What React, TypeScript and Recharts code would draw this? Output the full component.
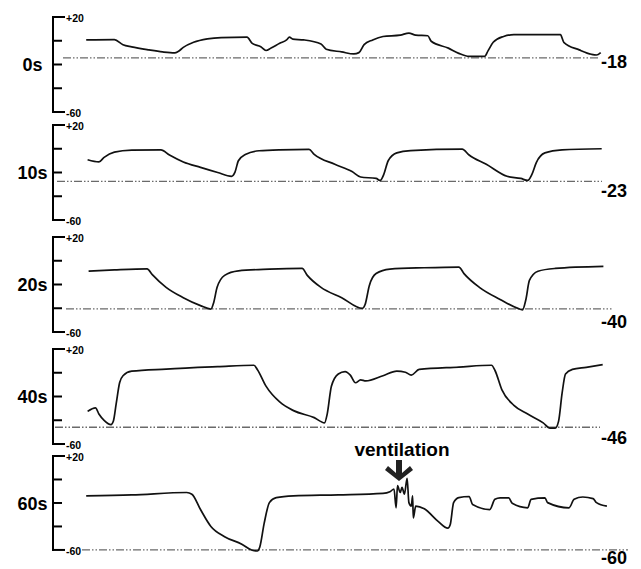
import React from 'react';
import { LineChart, Line, XAxis, YAxis, ReferenceLine } from 'recharts';

// ---- data (time in arbitrary units 0..115, membrane potential in mV) ----
const Y_TICKS = [20, 0, -20, -40, -60];
const PANEL_LABELS = ['0s', '10s', '20s', '40s', '60s'];
const BASELINE_VALUES = [-14.4, -27.5, -40.5, -45.9, -60];
const BASELINE_LABELS = ['-18', '-23', '-40', '-46', '-60'];
const BASELINE_START = [2, 0.8, 2.6, 0.4, 5.8];
const BASELINE_END = [109, 109.8, 111.7, 109.4, 115];

const TIME_0S = [6.64, 12.28, 14.0, 15.74, 19.18, 21.92, 24.34, 25.02, 26.06, 28.12, 30.88, 33.64, 38.8, 39.84, 41.56, 42.6, 43.62, 45.34, 46.72, 47.28, 47.96, 50.16, 53.6, 54.64, 57.74, 60.16, 61.18, 62.22, 63.94, 66.0, 69.44, 71.18, 72.54, 74.96, 75.64, 79.08, 81.16, 83.22, 86.32, 87.0, 88.04, 90.12, 92.18, 101.48, 102.16, 105.26, 107.68, 108.7, 109.54];
const VOLT_0S = [0.7, 1.0, -3.3, -5.1, -7.7, -9.4, -10.2, -9.1, -5.6, -1.3, 1.6, 2.7, 3.0, -2.2, -5.1, -8.2, -6.2, -2.2, 0.7, 3.0, 1.3, 0.7, -2.8, -7.1, -9.4, -11.1, -10, -3.3, 0.7, 3.6, 4.7, 6.5, 4.7, 4.2, -0.4, -6.2, -10.6, -13.2, -13.2, -8.5, -1.3, 3.6, 5.1, 5.1, -1.3, -7.7, -11.4, -12, -10];

const TIME_10S = [6.92, 9.18, 10.22, 12.28, 15.74, 21.58, 23.3, 26.06, 29.5, 32.94, 35.7, 36.4, 37.08, 38.46, 41.22, 45.34, 51.2, 52.24, 56.36, 59.8, 61.52, 64.62, 65.46, 66.14, 67.04, 68.76, 71.52, 81.84, 83.22, 86.66, 90.8, 93.56, 94.94, 95.76, 96.66, 98.38, 101.82, 109.74];
const VOLT_10S = [-9.3, -11.1, -7.3, -2.9, -1.2, -0.9, -5.3, -11.1, -15.7, -20, -23.2, -19.7, -10.1, -4.9, -1.7, -0.9, -0.6, -4.7, -13.1, -19.2, -23.8, -25, -26.7, -21.8, -10.1, -3.5, -1.5, -0.3, -5.3, -13.1, -23.2, -25, -26.7, -21.8, -11.6, -3.5, -0.9, 0];

const TIME_20S = [7.12, 12.28, 18.82, 19.86, 22.62, 26.06, 29.5, 31.58, 32.12, 32.82, 34.32, 37.08, 43.28, 49.82, 50.86, 53.6, 57.74, 61.88, 62.42, 63.26, 64.62, 67.38, 74.26, 81.16, 82.2, 85.28, 89.42, 92.86, 93.9, 94.58, 95.28, 97.0, 100.44, 110.08];
const VOLT_20S = [-8.8, -7.7, -6.8, -11.7, -22.4, -31.1, -37.8, -40.7, -35.5, -22.4, -12.3, -8.5, -7.1, -6.5, -12.3, -22.4, -31.1, -40.1, -36.9, -21, -10.8, -7.1, -5.9, -5.3, -10.8, -22.4, -32.6, -39.9, -41.3, -32.6, -16.6, -8.8, -6.5, -4.8];

const TIME_40S = [6.92, 8.5, 9.18, 10.22, 11.6, 12.08, 12.64, 13.32, 14.0, 15.74, 22.62, 32.94, 40.18, 40.86, 42.6, 45.34, 48.1, 52.24, 54.3, 54.84, 55.68, 57.06, 58.42, 59.46, 60.5, 61.52, 62.56, 66.0, 68.76, 70.48, 71.66, 73.24, 81.16, 87.7, 88.4, 89.76, 92.18, 94.94, 98.04, 99.4, 100.44, 101.12, 101.82, 102.5, 103.88, 106.64, 109.94];
const VOLT_40S = [-32.5, -29.5, -34.8, -40.1, -43.7, -40.7, -26, -8.4, -2.5, 1.3, 3.1, 5.1, 6.3, 2.8, -11.3, -24.6, -31.9, -37.8, -42.2, -34.8, -11.3, -1, 1, -2, -8.4, -6, -6.9, -2.5, 1.3, 0.4, -2, 2.8, 4.8, 6.3, 1.9, -14.2, -27.5, -34.8, -42.2, -46.6, -46.6, -40.7, -17.2, -1, 2.8, 4.6, 6.9];

const TIME_60S = [6.64, 15.74, 26.74, 27.78, 29.5, 31.58, 34.32, 37.76, 39.84, 40.86, 41.36, 42.24, 43.28, 44.66, 48.1, 57.06, 66.0, 67.38, 68.2, 68.62, 68.9, 69.44, 69.8, 70.28, 70.82, 71.18, 71.66, 71.92, 72.06, 72.54, 74.26, 77.02, 78.96, 79.44, 80.12, 81.16, 83.22, 83.92, 87.36, 88.38, 89.42, 91.14, 91.84, 94.94, 95.62, 98.38, 98.92, 103.2, 104.22, 105.96, 108.02, 108.7, 110.78];
const VOLT_60S = [-13.9, -13.1, -11.1, -12.5, -25.6, -40, -48.7, -55.1, -60.3, -60.9, -57.5, -37.2, -19.7, -15.4, -13.9, -13.1, -11.9, -10.5, -8.1, -24.1, -5.3, -11.1, -6.7, -12.5, 0.9, -19.7, -22.7, -13.9, -32.8, -22.7, -25, -35.7, -41.5, -38.6, -19.7, -15.4, -14.5, -21.3, -25.6, -16.9, -15.7, -15.7, -20.3, -24.1, -16.9, -15.7, -19.7, -24.1, -16.9, -14.9, -16.3, -19.7, -22.7];

const TIMES = [TIME_0S, TIME_10S, TIME_20S, TIME_40S, TIME_60S];
const VOLTS = [VOLT_0S, VOLT_10S, VOLT_20S, VOLT_40S, VOLT_60S];

// ---- layout ----
const W = 641;
const H = 569;
const PANEL_TOPS = [17, 125, 237, 349, 456];
const PLOT_H = 95;
const M_TOP = 10;
const M_BOT = 10;
const AXIS_X = 53;
const PLOT_RIGHT = 628;
const RIGHT_LABEL_BASE = [68, 197, 327.5, 444, 564];
const FONT = '"Liberation Sans", Arial, Helvetica, sans-serif';

const AxisTick = (props: any) => {
  const { x, y, payload } = props;
  const v = payload.value;
  const isEnd = v === 20 || v === -60;
  return (
    <g>
      <line x1={x - 1} x2={x + (isEnd ? 12 : 9)} y1={y} y2={y} stroke="#000" strokeWidth={2} />
      {isEnd && (
        <text x={x + 13} y={y + 5} fontFamily={FONT} fontWeight="bold" fontSize={10.5} fill="#000">
          {v > 0 ? '+' + v : String(v)}
        </text>
      )}
    </g>
  );
};

const Panel = ({ idx }: { idx: number }) => {
  const data = TIMES[idx].map((t, i) => ({ t, v: VOLTS[idx][i] }));
  const base = BASELINE_VALUES[idx];
  return (
    <div style={{ position: 'absolute', left: 0, top: PANEL_TOPS[idx] - M_TOP }}>
      <LineChart
        width={W}
        height={PLOT_H + M_TOP + M_BOT}
        data={data}
        margin={{ top: M_TOP, right: W - PLOT_RIGHT, bottom: M_BOT, left: 0 }}
      >
        <XAxis type="number" dataKey="t" domain={[0, 115]} hide />
        <YAxis
          type="number"
          domain={[-60, 20]}
          ticks={Y_TICKS}
          interval={0}
          width={AXIS_X}
          tickSize={0}
          tickMargin={0}
          tickLine={false}
          axisLine={{ stroke: '#000', strokeWidth: 2 }}
          tick={<AxisTick />}
        />
        <ReferenceLine
          segment={[
            { x: BASELINE_START[idx], y: base },
            { x: BASELINE_END[idx], y: base },
          ]}
          stroke="#6a6a6a"
          strokeWidth={1.3}
          strokeDasharray="8 2 1.5 2 1.5 2"
        />
        <Line
          type="monotoneX"
          dataKey="v"
          stroke="#111"
          strokeWidth={1.7}
          dot={false}
          isAnimationActive={false}
        />
      </LineChart>
    </div>
  );
};

export default function App() {
  return (
    <div style={{ position: 'absolute', left: 0, top: 0, width: W, height: H, background: '#fff', overflow: 'hidden' }}>
      {PANEL_LABELS.map((_, i) => (
        <Panel key={i} idx={i} />
      ))}
      <svg width={W} height={H} style={{ position: 'absolute', left: 0, top: 0, pointerEvents: 'none' }}>
        {PANEL_LABELS.map((lab, i) => (
          <text
            key={'l' + i}
            x={32.5}
            y={PANEL_TOPS[i] + PLOT_H * 0.5 + 6.5}
            textAnchor="middle"
            fontFamily={FONT}
            fontWeight="bold"
            fontSize={18}
            fill="#000"
          >
            {lab}
          </text>
        ))}
        {BASELINE_LABELS.map((lab, i) => (
          <text
            key={'r' + i}
            x={627}
            y={RIGHT_LABEL_BASE[i]}
            textAnchor="end"
            fontFamily={FONT}
            fontWeight="bold"
            fontSize={18}
            fill="#000"
          >
            {lab}
          </text>
        ))}
        <text x={402} y={456} textAnchor="middle" fontFamily={FONT} fontWeight="bold" fontSize={19} fill="#000">
          ventilation
        </text>
        <polygon
          points="396,460 402,460 402,473 410,466 413,470 399,481 385,470 388,466 396,473"
          fill="#222"
        />
      </svg>
    </div>
  );
}
